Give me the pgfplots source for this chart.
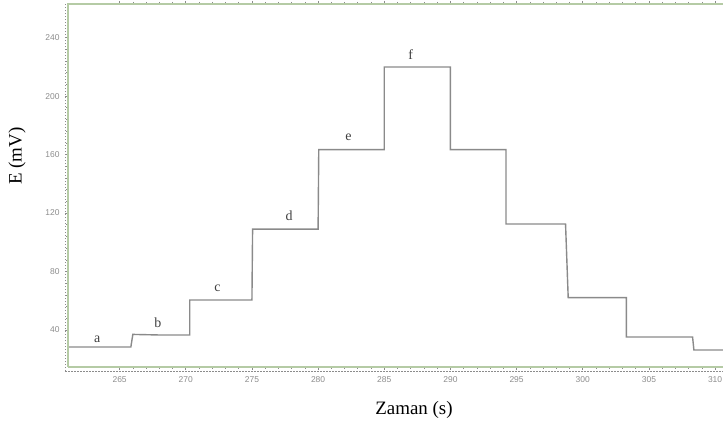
\documentclass[border=0pt]{standalone}
\usepackage{pgfplots}
\pgfplotsset{compat=1.18}
\usepackage{fontspec}
\setmainfont{Liberation Serif}
\newfontfamily\ticksf{Liberation Sans}
\definecolor{frameg}{HTML}{B5CBA5}
\definecolor{stepc}{HTML}{8A8A8A}
\definecolor{tickc}{HTML}{8C8C8C}
\begin{document}
\begin{tikzpicture}[x=1bp,y=1bp]
\useasboundingbox (0,0) rectangle (723,430);
\begin{axis}[
  at={(68bp,63bp)}, anchor=origin,
  scale only axis, width=655bp, height=363bp,
  xmin=261.1, xmax=310.6, ymin=14.7, ymax=263,
  axis line style={draw=none},
  xtick={265,270,...,310}, ytick={40,80,...,240},
  tick align=outside, major tick length=3bp,
  minor x tick num=4, minor y tick num=4, minor tick length=2bp,
  tick style={tickc, line width=0.6bp},
  ticklabel style={font=\ticksf\fontsize{8.5}{9}\selectfont, text=tickc},
  xticklabel style={yshift=-3bp},
  yticklabel style={xshift=-2bp},
  /pgf/number format/assume math mode=true,
  clip=false,
]
\addplot[stepc, line width=1.4bp] coordinates {
(261.1,28.4) (265.85,28.4) (266.0,37.0) (268,36.6) (270.3,36.6) (270.3,60.5)
(275.0,60.5) (275.05,109) (280.0,109) (280.05,163.4) (285.0,163.4) (285.0,219.9)
(290.0,219.9) (290.0,163.4) (294.2,163.4) (294.2,112.5) (298.7,112.5) (298.9,62.2)
(303.3,62.2) (303.3,35.2) (308.3,35.2) (308.4,26.3) (310.6,26.3)
};
\draw[frameg, line width=1.2bp] (rel axis cs:0,0) -- (rel axis cs:0,1) -- (rel axis cs:1,1);
\draw[frameg, line width=1.2bp] (rel axis cs:0,0) -- (rel axis cs:1,0);
\draw[tickc, line width=0.8bp, dash pattern=on 1.5bp off 1.5bp] ([xshift=-3bp,yshift=-4bp]rel axis cs:0,0) -- ([xshift=-3bp]rel axis cs:0,1);
\draw[tickc, line width=0.8bp, dash pattern=on 1.5bp off 1.5bp] ([xshift=-3bp,yshift=-4bp]rel axis cs:0,0) -- ([yshift=-4bp]rel axis cs:1,0);
\node[font=\fontsize{14}{14}\selectfont, text=black!75] at (axis cs:263.3,33.9) {a};
\node[font=\fontsize{14}{14}\selectfont, text=black!75] at (axis cs:267.9,44.8) {b};
\node[font=\fontsize{14}{14}\selectfont, text=black!75] at (axis cs:272.4,68.7) {c};
\node[font=\fontsize{14}{14}\selectfont, text=black!75] at (axis cs:277.8,118) {d};
\node[font=\fontsize{14}{14}\selectfont, text=black!75] at (axis cs:282.3,172) {e};
\node[font=\fontsize{14}{14}\selectfont, text=black!75] at (axis cs:287.0,228.1) {f};
\end{axis}
\node[font=\fontsize{19}{19}\selectfont, rotate=90] at (17,274) {E (mV)};
\node[font=\fontsize{19}{19}\selectfont] at (414,20) {Zaman (s)};
\end{tikzpicture}
\end{document}
